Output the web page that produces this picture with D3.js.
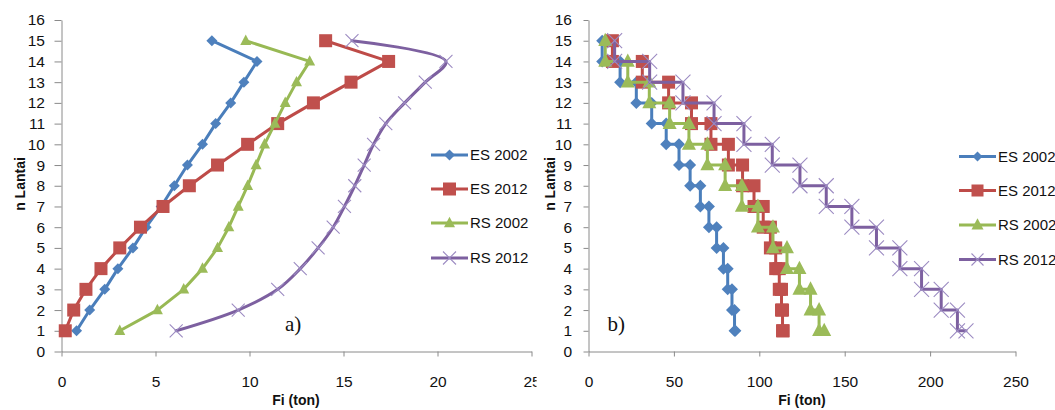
<!DOCTYPE html>
<html><head><meta charset="utf-8">
<script src="https://cdn.jsdelivr.net/npm/d3@7"></script>
<style>
body{margin:0;background:#fff}
svg{display:block}
text{font-family:"Liberation Sans",Arial,sans-serif}
</style></head><body>
<svg id="c" width="1055" height="410"></svg>
<script>
// ---------- data ----------
const floors = [1,2,3,4,5,6,7,8,9,10,11,12,13,14,15];
const yTicks = [0,1,2,3,4,5,6,7,8,9,10,11,12,13,14,15,16];
const xTicksA = [0,5,10,15,20,25];
const xTicksB = [0,50,100,150,200,250];
const seriesNames = ["ES 2002","ES 2012","RS 2002","RS 2012"];

// panel a) : lateral force Fi per floor (floor 1 .. 15)
const fiES2002 = [0.8,1.5,2.3,3.0,3.8,4.5,5.3,6.0,6.7,7.5,8.2,9.0,9.7,10.4,8.0];
const fiES2012 = [0.2,0.65,1.3,2.1,3.1,4.2,5.4,6.8,8.3,9.9,11.5,13.4,15.4,17.4,14.05];
const fiRS2002 = [3.1,5.1,6.5,7.5,8.3,8.9,9.4,9.9,10.35,10.8,11.35,11.9,12.5,13.2,9.8];
const fiRS2012 = [6.1,9.4,11.5,12.7,13.65,14.45,15.05,15.6,16.1,16.6,17.25,18.25,19.35,20.45,15.45];

// panel b) : storey shear per floor (floor 1 .. 15)
const vES2002 = [86,85.5,84,81.5,79,75,70.5,65.5,59.5,53,45.5,37,28,18.5,8];
const vES2012 = [114,113.6,113,111.7,109.6,106.5,102.3,96.9,90.2,81.9,71.7,60.3,46.9,31.5,14];
const vRS2002 = [138,135,130,123.5,116.2,108,99.2,89.8,80,69.6,58.8,47.5,35.6,23,9.8];
const vRS2012 = [221,216,206.5,195,182.3,168.6,154.2,139.2,123.8,107.6,91,73.5,55.3,35.8,15.3];

// ---------- styles ----------
const lineColors = ["#4A7EBB","#BE4B48","#98B954","#7D60A0"];
const markFill   = ["#4F81BD","#C0504D","#9BBB59","#9C8BC2"];
const markTypes  = ["diamond","square","triangle","cross"];

const svg = d3.select("#c");

function marker(g, type, x, y, s, i){
  if(type==="diamond"){
    g.append("path").attr("d",`M${x},${y-s/2}L${x+s/2},${y}L${x},${y+s/2}L${x-s/2},${y}Z`).attr("fill",markFill[i]);
  } else if(type==="square"){
    g.append("rect").attr("x",x-s/2).attr("y",y-s/2).attr("width",s).attr("height",s).attr("fill",markFill[i]);
  } else if(type==="triangle"){
    const h=s*0.95;
    g.append("path").attr("d",`M${x},${y-h*0.6}L${x+s/2},${y+h*0.4}L${x-s/2},${y+h*0.4}Z`).attr("fill",markFill[i]);
  } else {
    const r=s/2;
    g.append("path").attr("d",`M${x-r},${y-r}L${x+r},${y+r}M${x-r},${y+r}L${x+r},${y-r}`)
      .attr("stroke",markFill[i]).attr("stroke-width",1.1).attr("fill","none");
  }
}

function styleAxis(g){
  g.select(".domain").attr("stroke","#8a8a8a").attr("stroke-width",1);
  g.selectAll(".tick line").attr("stroke","#8a8a8a").attr("stroke-width",1);
  g.selectAll(".tick text").attr("fill","#111").style("font-size","15.5px").style("font-family",'"Liberation Sans",Arial,sans-serif');
}

// clip (in the last tick's own coordinates) for the left panel's cut "25" label
svg.append("defs").append("clipPath").attr("id","clipA")
  .append("rect").attr("x",-40).attr("y",-10).attr("width",44.5).attr("height",60);

function panel(cfg){
  const x = d3.scaleLinear().domain(cfg.xDomain).range(cfg.xRange);
  const y = d3.scaleLinear().domain([0,16]).range([351.5,20]);
  const g = svg.append("g");

  const ax = g.append("g").attr("transform",`translate(0,${y(0)})`)
    .call(d3.axisBottom(x).tickValues(cfg.xTicks).tickSize(5).tickSizeOuter(0).tickPadding(19));
  styleAxis(ax);
  if(cfg.clip) ax.selectAll(".tick").filter(d=>d===cfg.xTicks[cfg.xTicks.length-1])
    .select("text").attr("clip-path","url(#clipA)");

  const ay = g.append("g").attr("transform",`translate(${x(0)},0)`)
    .call(d3.axisLeft(y).tickValues(yTicks).tickSize(cfg.ytick).tickSizeOuter(0).tickPadding(16.5-cfg.ytick));
  styleAxis(ay);

  // axis titles
  g.append("text").attr("x",cfg.xTitleX).attr("y",405).attr("text-anchor","middle")
    .style("font-size","14px").style("font-weight","bold").attr("fill","#111").text("Fi (ton)");
  g.append("text").attr("transform",`translate(${cfg.yTitleX},184) rotate(-90)`).attr("dy","0.35em")
    .attr("text-anchor","middle").style("font-size","14px").style("font-weight","bold").attr("fill","#111").text("n Lantai");

  // panel label
  g.append("text").attr("x",cfg.labX).attr("y",330.5).style("font-family",'"Liberation Serif","Times New Roman",serif')
    .style("font-size","21px").attr("fill","#111").text(cfg.label);

  // series
  cfg.series.forEach((vals,i)=>{
    const pts = cfg.points(vals);
    const line = d3.line().x(d=>x(d[0])).y(d=>y(d[1]));
    if(cfg.smoothLast && i===3) line.curve(d3.curveCatmullRom.alpha(0.5));
    const sg = g.append("g");
    sg.append("path").attr("d",line(pts)).attr("fill","none").attr("stroke",lineColors[i])
      .attr("stroke-width",3).attr("stroke-linejoin","round").attr("stroke-linecap","round");
    pts.forEach(p=>marker(sg, markTypes[i], x(p[0]), y(p[1]), cfg.msize[i], i));
  });

  // legend
  seriesNames.forEach((name,i)=>{
    const ly = cfg.legY[i];
    const lg = g.append("g");
    lg.append("line").attr("x1",cfg.legX).attr("x2",cfg.legX+37).attr("y1",ly).attr("y2",ly)
      .attr("stroke",lineColors[i]).attr("stroke-width",3);
    marker(lg, markTypes[i], cfg.legX+18.5, ly, cfg.lmsize[i], i);
    lg.append("text").attr("x",cfg.legX+39).attr("y",ly).attr("dy","0.35em")
      .style("font-size","15px").attr("fill","#111").text(name);
  });
}

// left: straight lines through (Fi, floor)
panel({
  xDomain:[0,25], xRange:[61.5,531.5], xTicks:xTicksA, ytick:7, clip:true,
  xTitleX:296, yTitleX:20.5, labX:285, label:"a)",
  series:[fiES2002,fiES2012,fiRS2002,fiRS2012],
  points: vals => floors.map((f,k)=>[vals[k],f]),
  smoothLast:true,
  msize:[11,13,11,13], lmsize:[11,13,11,13],
  legX:431, legY:[155,189,223,258]
});

// right: storey-shear staircase
panel({
  xDomain:[0,250], xRange:[588.5,1015.5], xTicks:xTicksB, ytick:5, clip:false,
  xTitleX:802, yTitleX:550.5, labX:607.5, label:"b)",
  series:[vES2002,vES2012,vRS2002,vRS2012],
  points: vals => {
    const n = floors.length;
    const pts = [[vals[n-1], floors[n-1]]];
    for(let k=n-1;k>=1;k--){
      pts.push([vals[k], floors[k-1]]);
      pts.push([vals[k-1], floors[k-1]]);
    }
    return pts;
  },
  smoothLast:false,
  msize:[12,13,14,15], lmsize:[10,12,12,12],
  legX:959, legY:[156.5,190.5,225,259.5]
});
</script>
</body></html>
